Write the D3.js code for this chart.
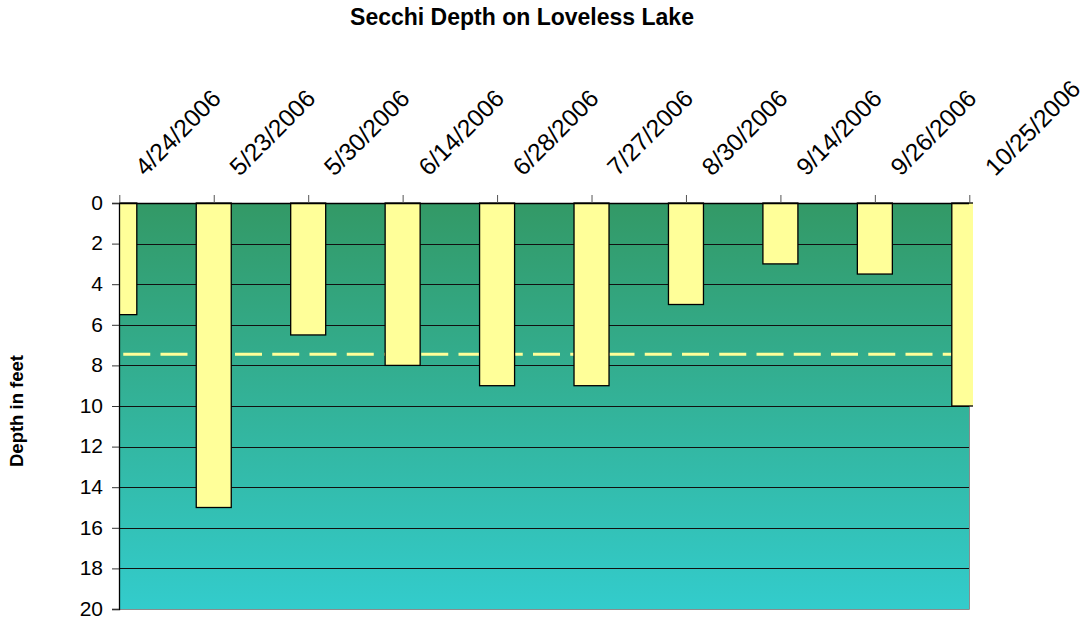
<!DOCTYPE html>
<html>
<head>
<meta charset="utf-8">
<script src="https://cdn.jsdelivr.net/npm/d3@7"></script>
<style>
  html, body { margin: 0; padding: 0; background: #fff; }
  svg { display: block; font-family: Arial, "Liberation Sans", Helvetica, sans-serif; }
</style>
</head>
<body>
<svg id="chart" width="1086" height="619"></svg>
<script>
// Sampling dates and Secchi depth readings (feet)
const sampleDates = ["4/24/2006", "5/23/2006", "5/30/2006", "6/14/2006", "6/28/2006",
                     "7/27/2006", "8/30/2006", "9/14/2006", "9/26/2006", "10/25/2006"];
const secchiDepths = [5.5, 15, 6.5, 8, 9, 9, 5, 3, 3.5, 10];
// Season average depth
const averageDepth = 7.45;
const depthTicks = [0, 2, 4, 6, 8, 10, 12, 14, 16, 18, 20];

const svg = d3.select("#chart");
const plot = { left: 119, right: 969, top: 203, bottom: 609 };

const x = d3.scalePoint().domain(sampleDates).range([plot.left + 0.3, plot.right + 0.3]);
const y = d3.scaleLinear().domain([0, 20]).range([plot.top, plot.bottom]);
const barWidth = 35;

const defs = svg.append("defs");
const grad = defs.append("linearGradient")
  .attr("id", "waterGrad").attr("x1", 0).attr("y1", 0).attr("x2", 0).attr("y2", 1);
grad.append("stop").attr("offset", "0%").attr("stop-color", "#339966");
grad.append("stop").attr("offset", "100%").attr("stop-color", "#33CCCC");

defs.append("clipPath").attr("id", "plotClip")
  .append("rect")
  .attr("x", plot.left).attr("y", plot.top - 1)
  .attr("width", plot.right - plot.left + 4).attr("height", plot.bottom - plot.top + 2);

// Plot background
svg.append("rect")
  .attr("x", plot.left).attr("y", plot.top)
  .attr("width", plot.right - plot.left).attr("height", plot.bottom - plot.top)
  .attr("fill", "url(#waterGrad)");

// Horizontal gridlines
svg.append("g").selectAll("line")
  .data(depthTicks.filter(d => d > 0 && d < 20))
  .join("line")
  .attr("x1", plot.left).attr("x2", plot.right)
  .attr("y1", d => Math.round(y(d)) + 0.5).attr("y2", d => Math.round(y(d)) + 0.5)
  .attr("stroke", "#111").attr("stroke-width", 1);

// Plot border (right and bottom)
svg.append("path")
  .attr("d", `M${plot.right + 0.5},${plot.top}V${plot.bottom + 0.5}H${plot.left}`)
  .attr("fill", "none").attr("stroke", "#8c8c8c").attr("stroke-width", 1);

// Average depth line
svg.append("line")
  .attr("x1", plot.left).attr("x2", plot.right)
  .attr("y1", y(averageDepth)).attr("y2", y(averageDepth))
  .attr("stroke", "#FFFF99").attr("stroke-width", 3)
  .attr("stroke-dasharray", "27,10.25")
  .attr("stroke-dashoffset", 33);

// Depth bars hanging from the surface
svg.append("g").attr("clip-path", "url(#plotClip)")
  .selectAll("rect")
  .data(sampleDates.map((d, i) => ({ date: d, depth: secchiDepths[i] })))
  .join("rect")
  .attr("x", d => x(d.date) - barWidth / 2)
  .attr("y", y(0))
  .attr("width", barWidth)
  .attr("height", d => y(d.depth) - y(0))
  .attr("fill", "#FFFF99")
  .attr("stroke", "#000").attr("stroke-width", 1.3);

// Left depth axis
const yAxis = d3.axisLeft(y).tickValues(depthTicks).tickSize(7).tickPadding(9);
const yg = svg.append("g").attr("transform", `translate(${plot.left},0)`).call(yAxis);
yg.select(".domain").attr("stroke", "#000").attr("stroke-width", 1.3);
yg.selectAll(".tick line").attr("stroke", "#333");
yg.selectAll(".tick text").attr("font-size", 21).attr("fill", "#000")
  .attr("font-family", "Arial, 'Liberation Sans', sans-serif")
  .attr("dy", "0.3em");

// Top date axis
const xAxis = d3.axisTop(x).tickSize(8).tickFormat("");
const xg = svg.append("g").attr("transform", `translate(0,${plot.top})`).call(xAxis);
xg.select(".domain").attr("d", `M${plot.left},0.5H${plot.right}`)
  .attr("stroke", "#000").attr("stroke-width", 1.3);
xg.selectAll(".tick line").attr("stroke", "#555");

svg.append("g").selectAll("text")
  .data(sampleDates)
  .join("text")
  .attr("transform", d => `translate(${x(d) + 26},177) rotate(-45)`)
  .attr("text-anchor", "start")
  .attr("font-size", 24.5)
  .attr("fill", "#000")
  .text(d => d);

// Titles
svg.append("text")
  .attr("x", 522).attr("y", 25)
  .attr("text-anchor", "middle")
  .attr("font-size", 23).attr("font-weight", "bold")
  .text("Secchi Depth on Loveless Lake");

svg.append("text")
  .attr("transform", "translate(23,411) rotate(-90)")
  .attr("text-anchor", "middle")
  .attr("font-size", 18.5).attr("font-weight", "bold")
  .text("Depth in feet");
</script>
</body>
</html>
